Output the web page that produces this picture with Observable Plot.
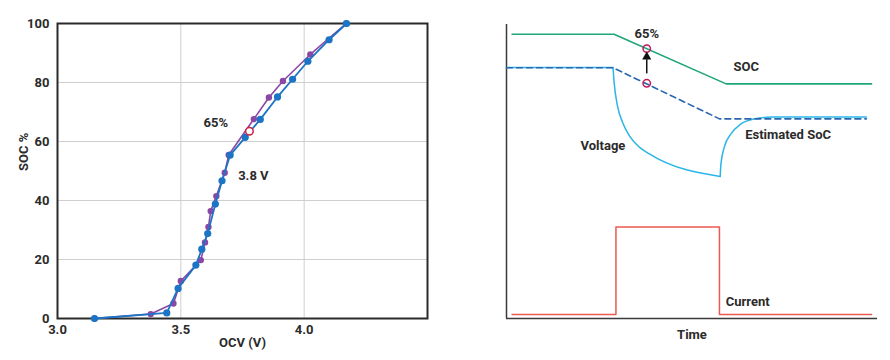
<!DOCTYPE html>
<html>
<head>
<meta charset="utf-8">
<script src="https://cdn.jsdelivr.net/npm/d3@7"></script>
<script src="https://cdn.jsdelivr.net/npm/@observablehq/plot@0.6"></script>
<style>
  html, body { margin: 0; padding: 0; background: #fff; }
  #wrap { position: relative; width: 890px; height: 360px; }
  #left { position: absolute; left: 0; top: 0; }
  #right { position: absolute; left: 450px; top: 0; }
</style>
</head>
<body>
<div id="wrap"><div id="left"></div><div id="right"></div></div>
<script>
// ---- Left panel: SOC vs OCV ----
const blueOCV   = [3.15, 3.443, 3.489, 3.561, 3.585, 3.609, 3.640, 3.667, 3.700, 3.761, 3.822, 3.892, 3.953, 4.015, 4.101, 4.172];
const blueSOC   = [0, 1.9, 10.2, 18.1, 23.5, 28.8, 38.8, 46.7, 55.4, 61.4, 67.5, 75.1, 81.1, 87.2, 94.5, 100];
const purpleOCV = [3.15, 3.378, 3.470, 3.500, 3.581, 3.598, 3.612, 3.621, 3.644, 3.678, 3.694, 3.796, 3.857, 3.914, 4.025, 4.170];
const purpleSOC = [0, 1.5, 5.1, 12.7, 19.8, 25.8, 31.0, 36.4, 41.5, 49.4, 55.4, 67.6, 74.9, 80.5, 89.5, 100];
const markOCV = [3.778];
const markSOC = [63.5];
const xTicks = [3.0, 3.5, 4.0];
const yTicks = [0, 20, 40, 60, 80, 100];
const leftNotes = [{x: 3.642, y: 66.3, t: "65%"}, {x: 3.794, y: 48.2, t: "3.8 V"}];

// ---- Right panel: schematic over time ----
const socT = [1.5, 29, 59.2, 98.4];
const socV = [96.7, 96.7, 79.8, 79.8];
const estT = [0, 28.7, 57.4, 97];
const estV = [85.3, 85.3, 67.9, 67.9];
const voltFlatT = [0, 28.7];
const voltFlatV = [85.4, 85.4];
const voltDropT = [28.7, 29.0, 29.9, 31.3, 33.1, 35.8, 38.5, 57.6];
const voltDropV = [85.4, 80.4, 72.4, 66.7, 62.2, 58.3, 56.0, 48.3];
const voltRecT = [57.6, 57.8, 58.7, 60.5, 63.2, 66.8, 71.4, 97];
const voltRecV = [48.3, 52.6, 58.3, 62.8, 66.2, 67.9, 68.5, 68.5];
const currT = [1.5, 29.5, 57.4, 98.4];
const currV = [1.4, 31.1, 1.4, 1.4];
const circT = [37.8, 37.8];
const circV = [91.8, 80.0];
const arrowT = 37.8, arrowFrom = 83.2, arrowTo = 89.0;
const rightNotes = [
  {x: 37.8, y: 96.9, t: "65%"},
  {x: 64.6, y: 85.5, t: "SOC"},
  {x: 75.9, y: 62.5, t: "Estimated SoC"},
  {x: 26.0, y: 58.9, t: "Voltage"},
  {x: 65.0, y: 5.8, t: "Current"}
];

const zip = (xs, ys) => xs.map((x, i) => ({x, y: ys[i]}));
const blue = zip(blueOCV, blueSOC);
const purple = zip(purpleOCV, purpleSOC);
const mark = zip(markOCV, markSOC);

const font = "Roboto, Inter, 'DejaVu Sans', sans-serif";
const ink = "#2b2b2b";
const BLUE = "#1c74c4", PURPLE = "#8a48a6";

const left = Plot.plot({
  width: 450, height: 360,
  marginLeft: 57, marginRight: 23, marginTop: 23, marginBottom: 42,
  style: {fontFamily: font, fontSize: "13px", fontWeight: 700, color: ink, background: "#fff"},
  x: {domain: [3.0, 4.5]},
  y: {domain: [0, 100]},
  marks: [
    Plot.gridX([3.5, 4.0], {stroke: "#cfcfcf", strokeOpacity: 1, strokeWidth: 1}),
    Plot.gridY([20, 40, 60, 80], {stroke: "#cfcfcf", strokeOpacity: 1, strokeWidth: 1}),
    Plot.axisX({ticks: xTicks, tickFormat: d3.format(".1f"), tickSize: 0, tickPadding: 6, label: null, fill: ink}),
    Plot.axisY({ticks: yTicks, tickSize: 0, tickPadding: 8, label: null, fill: ink}),
    Plot.frame({stroke: "#2a2a2a", strokeWidth: 2}),
    Plot.line(purple, {x: "x", y: "y", stroke: PURPLE, strokeWidth: 1.6}),
    Plot.dot(purple, {x: "x", y: "y", fill: PURPLE, r: 3.2}),
    Plot.line(blue, {x: "x", y: "y", stroke: BLUE, strokeWidth: 1.8}),
    Plot.dot(blue, {x: "x", y: "y", fill: BLUE, r: 3.6}),
    Plot.dot(mark, {x: "x", y: "y", fill: "#fff", stroke: "#c8233f", strokeWidth: 1.5, r: 3.8}),
    Plot.text(leftNotes, {x: "x", y: "y", text: "t", fill: ink, fontSize: 13, fontWeight: 700}),
    Plot.text(["SOC %"], {frameAnchor: "left", dx: -34, rotate: -90, fill: ink, fontSize: 13, fontWeight: 700}),
    Plot.text(["OCV (V)"], {frameAnchor: "bottom", dy: 28, fill: ink, fontSize: 13, fontWeight: 700})
  ]
});
document.getElementById("left").appendChild(left);

const voltage = [
  ...zip(voltFlatT, voltFlatV).map(d => ({...d, seg: "flat"})),
  ...zip(voltDropT, voltDropV).map(d => ({...d, seg: "drop"})),
  ...zip(voltRecT, voltRecV).map(d => ({...d, seg: "rec"}))
];

const right = Plot.plot({
  width: 440, height: 360,
  marginLeft: 56, marginRight: 13, marginTop: 24, marginBottom: 42,
  style: {fontFamily: font, fontSize: "13px", fontWeight: 700, color: ink, background: "#fff"},
  x: {domain: [0, 100], axis: null},
  y: {domain: [0, 100], axis: null},
  marks: [
    Plot.ruleX([0], {stroke: "#3a3a3a", strokeWidth: 1.5}),
    Plot.ruleY([0], {stroke: "#3a3a3a", strokeWidth: 1.5}),
    Plot.line(voltage, {x: "x", y: "y", z: "seg", stroke: "#2bb6e6", strokeWidth: 1.5, curve: "monotone-x"}),
    Plot.line(zip(estT, estV), {x: "x", y: "y", stroke: "#2a66ad", strokeWidth: 1.6, strokeDasharray: "6,4"}),
    Plot.line(zip(socT, socV), {x: "x", y: "y", stroke: "#1fa57a", strokeWidth: 1.6}),
    Plot.line(zip(currT, currV), {x: "x", y: "y", stroke: "#ec5a4f", strokeWidth: 1.5, curve: "step-after"}),
    Plot.dot(zip(circT, circV), {x: "x", y: "y", stroke: "#c2185b", strokeWidth: 1.5, fill: "none", r: 3.7}),
    Plot.ruleX([arrowT], {y1: arrowFrom, y2: arrowTo - 1, stroke: "#111", strokeWidth: 1.5}),
    Plot.dot([arrowT], {x: d => d, y: [arrowTo], symbol: "triangle", r: 3.4, fill: "#111"}),
    Plot.text(rightNotes, {x: "x", y: "y", text: "t", fill: ink, fontSize: 13, fontWeight: 700}),
    Plot.text(["Time"], {frameAnchor: "bottom", dy: 20, fill: ink, fontSize: 13, fontWeight: 700})
  ]
});
document.getElementById("right").appendChild(right);
</script>
</body>
</html>
